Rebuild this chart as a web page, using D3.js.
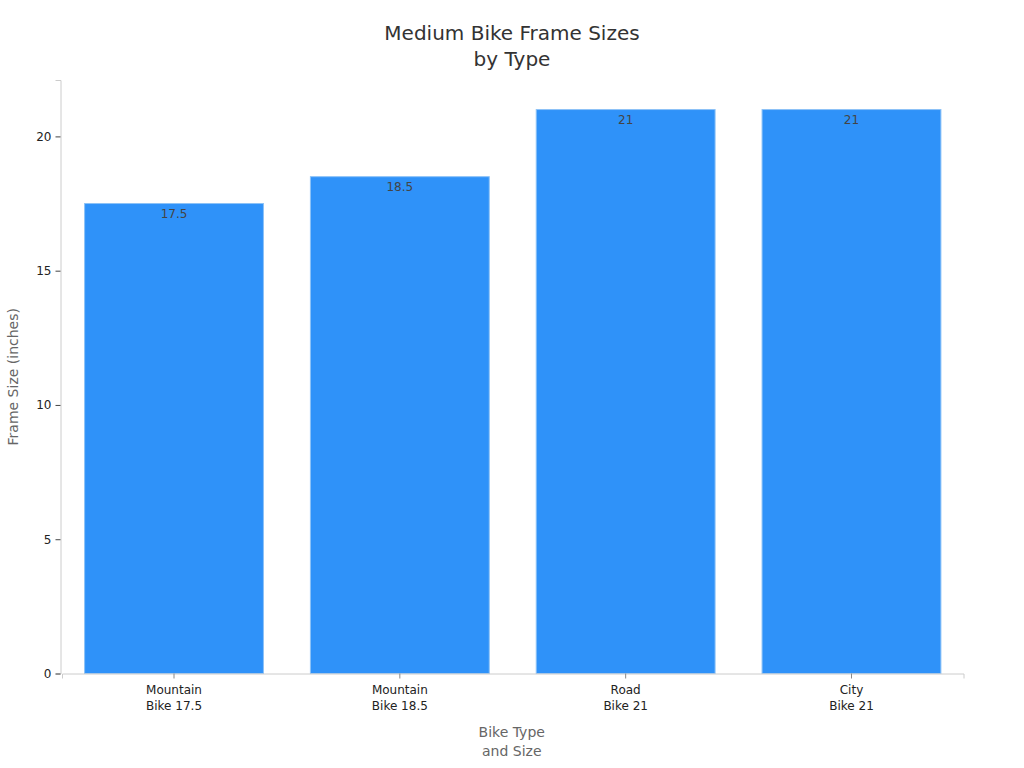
<!DOCTYPE html>
<html>
<head>
<meta charset="utf-8">
<script src="https://cdn.jsdelivr.net/npm/d3@7"></script>
<style>
  body { margin: 0; background: #fff; }
  text { font-family: "DejaVu Sans", sans-serif; }
</style>
</head>
<body>
<div id="chart"></div>
<script>
// Chart data
const categories = [["Mountain", "Bike 17.5"], ["Mountain", "Bike 18.5"], ["Road", "Bike 21"], ["City", "Bike 21"]];
const frameSizes = [17.5, 18.5, 21, 21];
const yTicks = [0, 5, 10, 15, 20];

const width = 1024;
const height = 768;
const margin = { top: 80, right: 61, bottom: 94.5, left: 60.5 };

const svg = d3.select("#chart")
    .append("svg")
    .attr("width", width)
    .attr("height", height);

const keys = categories.map(c => c.join(" "));

const x = d3.scaleBand()
    .domain(keys)
    .range([margin.left + 1.5, width - margin.right + 0.5])
    .paddingInner(0.208)
    .paddingOuter(0.1);

const y = d3.scaleLinear()
    .domain([0, 22.1])
    .range([height - margin.bottom, margin.top]);

// Title
const title = svg.append("text")
    .attr("x", width / 2)
    .attr("text-anchor", "middle")
    .attr("font-size", "20px")
    .attr("fill", "#333");
title.append("tspan").attr("x", width / 2).attr("y", 40).text("Medium Bike Frame Sizes");
title.append("tspan").attr("x", width / 2).attr("y", 66).text("by Type");

// Bars
svg.append("g")
    .selectAll("rect")
    .data(frameSizes)
    .join("rect")
    .attr("x", (d, i) => x(keys[i]))
    .attr("y", d => y(d))
    .attr("width", x.bandwidth())
    .attr("height", d => y(0) - y(d))
    .attr("fill", "#2f92f9")
    .attr("stroke", "#8cc2f7")
    .attr("stroke-width", 1);

// Value labels
svg.append("g")
    .selectAll("text")
    .data(frameSizes)
    .join("text")
    .attr("x", (d, i) => x(keys[i]) + x.bandwidth() / 2)
    .attr("y", d => y(d) + 14)
    .attr("text-anchor", "middle")
    .attr("font-size", "12px")
    .attr("fill", "#444")
    .text(d => d);

// Y axis
const yAxis = svg.append("g")
    .attr("transform", `translate(${margin.left},0)`)
    .call(d3.axisLeft(y).tickValues(yTicks).tickSizeOuter(0).tickSize(5).tickPadding(4));
yAxis.select(".domain").attr("stroke", "#ccc");
yAxis.selectAll(".tick line").attr("stroke", "#444");
yAxis.selectAll(".tick text").attr("font-size", "12px").attr("fill", "#222").attr("font-family", "DejaVu Sans, sans-serif");

// X axis
const xAxis = svg.append("g")
    .attr("transform", `translate(0,${height - margin.bottom})`)
    .call(d3.axisBottom(x).tickSizeOuter(0).tickSize(5).tickPadding(4));
xAxis.select(".domain").attr("stroke", "#ccc");
xAxis.selectAll(".tick line").attr("stroke", "#888");
xAxis.selectAll(".tick text").remove();
xAxis.selectAll(".tick").each(function (d, i) {
    const t = d3.select(this).append("text")
        .attr("fill", "#222")
        .attr("font-size", "12px")
        .attr("text-anchor", "middle")
        .attr("font-family", "DejaVu Sans, sans-serif");
    categories[i].forEach((line, j) => {
        t.append("tspan").attr("x", 0).attr("y", 20 + j * 16).text(line);
    });
});

// Axis titles
const xTitle = svg.append("text")
    .attr("text-anchor", "middle")
    .attr("font-size", "14px")
    .attr("fill", "#666");
xTitle.append("tspan").attr("x", (margin.left + width - margin.right) / 2).attr("y", 737).text("Bike Type");
xTitle.append("tspan").attr("x", (margin.left + width - margin.right) / 2).attr("y", 756).text("and Size");

svg.append("text")
    .attr("transform", `translate(18,${(margin.top + height - margin.bottom) / 2}) rotate(-90)`)
    .attr("text-anchor", "middle")
    .attr("font-size", "14px")
    .attr("fill", "#666")
    .text("Frame Size (inches)");
</script>
</body>
</html>
